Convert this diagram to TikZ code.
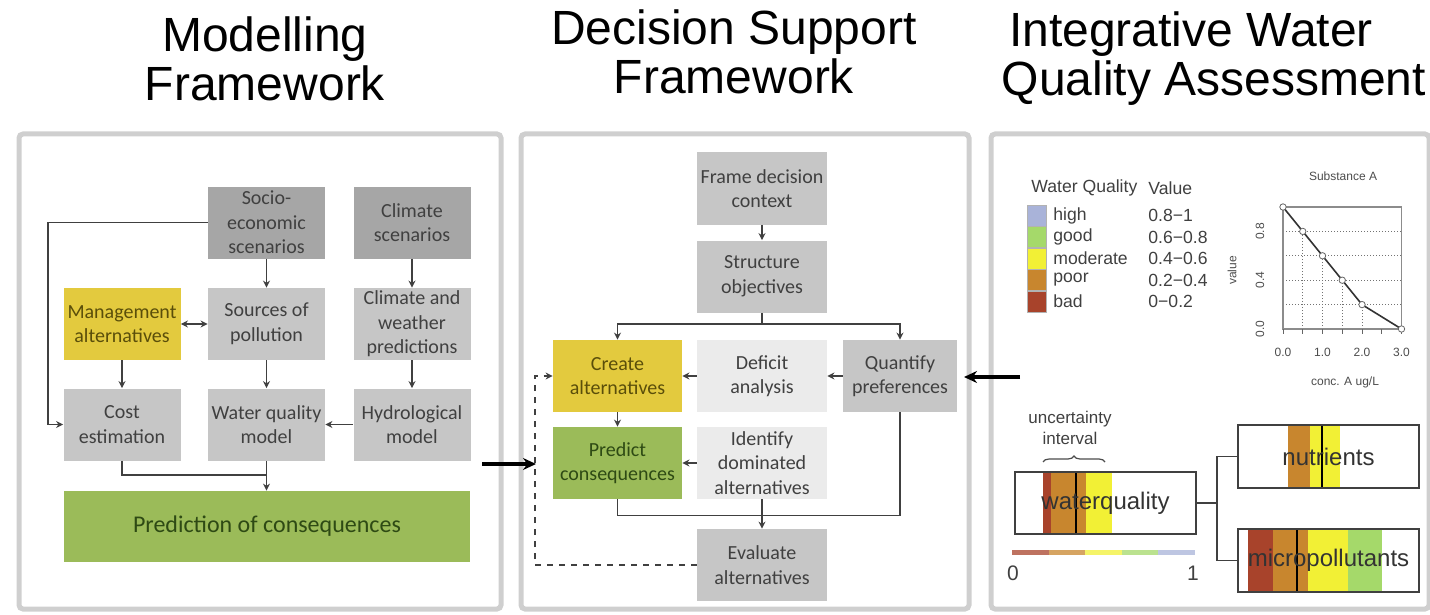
\documentclass[tikz,border=0pt]{standalone}
\usepackage{fontspec}
\setmainfont{Liberation Sans}
\newfontfamily\calfont{Carlito}
\usepackage{tikz}
\usetikzlibrary{arrows.meta,decorations.pathreplacing}

\definecolor{boxdark}{HTML}{A6A6A6}
\definecolor{boxmid}{HTML}{C6C6C6}
\definecolor{boxpale}{HTML}{EBEBEB}
\definecolor{boxyellow}{HTML}{E3CA3E}
\definecolor{boxgreen}{HTML}{9BBB59}
\definecolor{yellowtext}{HTML}{5A4E0A}
\definecolor{greentext}{HTML}{2E4A14}
\definecolor{linkgray}{HTML}{404040}
\definecolor{panelgray}{HTML}{CFCFCF}
\definecolor{wqhigh}{HTML}{A9B3D9}
\definecolor{wqgood}{HTML}{A5D96A}
\definecolor{wqmod}{HTML}{F2F035}
\definecolor{wqpoor}{HTML}{C8862E}
\definecolor{wqbad}{HTML}{A8432B}

\tikzset{
  title/.style={font=\fontsize{24}{24.5}\selectfont, align=center},
  panel/.style={draw=panelgray, line width=2.5pt, rounded corners=2pt},
  box/.style={minimum width=58.5pt, minimum height=36pt, inner sep=1pt,
              align=center, text=black!75,
              font=\calfont\fontsize{10}{12.3}\selectfont},
  darkbox/.style={box, fill=boxdark},
  lightbox/.style={box, fill=boxmid},
  palebox/.style={box, fill=boxpale},
  yellowbox/.style={box, fill=boxyellow, text=yellowtext},
  greenbox/.style={box, fill=boxgreen, text=greentext},
  link/.style={draw=linkgray, line width=0.9pt, ->},
  wire/.style={draw=linkgray, line width=0.9pt},
  bigarrow/.style={draw=black, line width=1.6pt, -{Stealth[length=6.5pt,width=6pt]}},
  legend/.style={font=\fontsize{8.8}{10}\selectfont, text=black!75, anchor=west, inner sep=0pt},
  tiny/.style={font=\fontsize{6}{7}\selectfont, text=black!70, inner sep=0pt},
  qbox/.style={draw=black!75, line width=0.8pt, minimum width=90.5pt, minimum height=31pt,
               inner sep=0pt, text=black!80, font=\fontsize{12}{13}\selectfont},
  tree/.style={draw=black!75, line width=0.8pt},
}

\begin{document}
\begin{tikzpicture}[x=0.5pt,y=-0.5pt,>={Stealth[length=3.5pt,width=3.5pt]}]
  \useasboundingbox (0,0) rectangle (1430,615);

  % headings over the three panels
  \node[title] (tmodel) at (265,59)  {Modelling\\Framework};
  \node[title] (tdecis) at (734,52)  {Decision Support\\Framework};
  \node[title] (tassess) at (1214,59) {Integrative Water\hspace*{23pt}\\Quality Assessment};

  \draw[panel] (19,134) rectangle (501,609);
  \draw[panel] (521,134) rectangle (969,609);
  \draw[panel] (991,134) rectangle (1429,609);

  % ---- modelling framework
  \node[darkbox]   (socio)    at (266.5,222.5) {Socio-\\economic\\scenarios};
  \node[darkbox]   (climsc)   at (412,222.5)   {Climate\\scenarios};
  \node[yellowbox] (mgmt)     at (122,324)     {Management\\alternatives};
  \node[lightbox]  (sources)  at (266.5,324)   {Sources of\\pollution};
  \node[lightbox]  (climpred) at (412,324)     {Climate and\\weather\\predictions};
  \node[lightbox]  (cost)     at (122,424.5)   {Cost\\estimation};
  \node[lightbox]  (wqm)      at (266.5,424.5) {Water quality\\model};
  \node[lightbox]  (hydro)    at (412,424.5)   {Hydrological\\model};
  \node[greenbox,minimum width=203pt,minimum height=35.5pt,
        font=\calfont\fontsize{12}{14}\selectfont] (pred) at (267,526.5)
        {Prediction of consequences};

  \draw[link] (socio) -- (sources);
  \draw[link] (climsc) -- (climpred);
  \draw[link,<->] (mgmt) -- (sources);
  \draw[link] (mgmt) -- (cost);
  \draw[link] (sources) -- (wqm);
  \draw[link] (climpred) -- (hydro);
  \draw[link] (hydro) -- (wqm);
  \draw[link] (socio.west) -- ++(-160,0) |- (cost.west);
  \draw[wire] (cost.south) |- (wqm.south |- 0,475);
  \draw[link] (wqm.south) -- (wqm.south |- pred.north);

  % ---- decision support framework
  \node[lightbox,minimum width=65pt]   (frame)    at (762,188.5) {Frame decision\\context};
  \node[lightbox,minimum width=65pt]   (struct)   at (762,276.5) {Structure\\objectives};
  \node[yellowbox,minimum width=64.5pt] (create)  at (617.5,376) {Create\\alternatives};
  \node[palebox,minimum width=65pt]    (deficit)  at (762,376)   {Deficit\\analysis};
  \node[lightbox,minimum width=57pt]   (quant)    at (900,376)   {Quantify\\preferences};
  \node[greenbox,minimum width=64.5pt] (predict)  at (617.5,463) {Predict\\consequences};
  \node[palebox,minimum width=65pt]    (identify) at (762,463)   {Identify\\dominated\\alternatives};
  \node[lightbox,minimum width=65pt]   (evaluate) at (762,565)   {Evaluate\\alternatives};

  \coordinate (split) at (762,324);
  \draw[link] (frame) -- (struct);
  \draw[wire] (struct) -- (split);
  \draw[link] (split) -| (create.north);
  \draw[link] (split) -| (quant.north);
  \draw[link] (deficit) -- (create);
  \draw[link] (quant) -- (deficit);
  \draw[link] (create) -- (predict);
  \draw[link] (identify) -- (predict);
  \draw[wire] (predict.south) -- ++(0,16) -| (quant.south);
  \draw[link] (identify) -- (evaluate);
  \draw[link,dashed] (evaluate.west) -- ++(-162,0) |- (create.west);

  % arrows between the panels
  \coordinate (modout) at (482,464);
  \coordinate (modin)  at (536,464);
  \coordinate (assout) at (1020,377);
  \coordinate (assin)  at (964,377);
  \draw[bigarrow] (modout) -- (modin);
  \draw[bigarrow] (assout) -- (assin);

  % ---- water quality assessment: legend
  \node[legend] (lghead) at (1031,188) {Water Quality};
  \node[legend] (lgval)  at (1148,188) {Value};
  \foreach \i/\col/\lab/\val in {0/wqhigh/high/0.8−1, 1/wqgood/good/0.6−0.8,
                                 2/wqmod/moderate/0.4−0.6, 3/wqpoor/poor/0.2−0.4,
                                 4/wqbad/bad/0−0.2}
     { \filldraw[fill=\col,draw=black!30,line width=0.3pt]
          (1027,205+21.5*\i) rectangle ++(19,21);
       \node[legend] (lg\i) at (1053,215.5+21.5*\i) {\lab};
       \node[legend] (lv\i) at (1148,215.5+21.5*\i) {\val}; }

  % value function of one substance
  \begin{scope}[shift={(1283,329)},x=19.75pt,y=61pt]
    \foreach \v in {0.2,0.4,0.6,0.8}
       { \draw[black!55,densely dotted,line width=0.5pt] (0,\v) -- (3,\v); }
    \foreach \u/\v in {0.5/0.8,1/0.6,1.5/0.4,2/0.2}
       { \draw[black!55,densely dotted,line width=0.5pt] (\u,0) -- (\u,\v); }
    \draw[black!45,line width=0.7pt] (0,0) rectangle (3,1);
    \foreach \u in {0,0.5,...,3}
       { \draw[black!60,line width=0.4pt] (\u,0) -- (\u,-0.04); }
    \draw[black!80,line width=0.8pt] (0,1) -- (0.5,0.8) -- (1,0.6) -- (1.5,0.4)
          -- (2,0.2) -- (3,0);
    \foreach \u/\v in {0/1,0.5/0.8,1/0.6,1.5/0.4,2/0.2,3/0}
       { \draw[black!60,line width=0.4pt,fill=white] (\u,\v) circle (1.6pt); }
    \foreach \u in {0,1,2,3}
       { \node[tiny] (xt\u) at (\u,-0.19) {\u.0}; }
    \foreach \v/\lab in {0/0.0,0.4/0.4,0.8/0.8}
       { \node[tiny,rotate=90] at (-0.58,\v) {\lab}; }
    \node[tiny,rotate=90] (ylab) at (-1.29,0.48) {value};
    \node[tiny] (ptitle) at (1.52,1.25) {Substance A};
    \node[tiny] (xlab) at (1.57,-0.44) {conc. A ug/L};
  \end{scope}

  % aggregation tree with uncertainty bands
  \node[legend,anchor=center,align=center,font=\fontsize{8.5}{10.5}\selectfont]
        (unc) at (1070,428) {uncertainty\\interval};
  \coordinate (bracel) at (1043,462);
  \coordinate (bracer) at (1105,462);
  \draw[black!70,line width=0.6pt,decorate,decoration={brace,amplitude=3pt}]
        (bracel) -- (bracer);

  \fill[wqbad]  (1043,472) rectangle (1051,534);
  \fill[wqpoor] (1051,472) rectangle (1086,534);
  \fill[wqmod]  (1086,472) rectangle (1112,534);
  \draw[black,line width=0.8pt] (1076,472) -- (1076,534);
  \node[qbox] (wq) at (1105.5,503) {waterquality};

  \fill[wqpoor] (1288,425) rectangle (1310,488);
  \fill[wqmod]  (1310,425) rectangle (1340,488);
  \draw[black,line width=0.8pt] (1322,425) -- (1322,488);
  \node[qbox,minimum height=31.5pt] (nut) at (1328.5,456.5) {nutrients};

  \fill[wqbad]  (1248,529) rectangle (1273,592);
  \fill[wqpoor] (1273,529) rectangle (1308,592);
  \fill[wqmod]  (1308,529) rectangle (1348,592);
  \fill[wqgood] (1348,529) rectangle (1382,592);
  \draw[black,line width=0.8pt] (1297,529) -- (1297,592);
  \node[qbox,minimum height=31.5pt] (micro) at (1328.5,560.5) {micropollutants};

  \coordinate (fork) at (1217,503);
  \draw[tree] (wq.east) -- (fork);
  \draw[tree] (nut.west) -| (fork);
  \draw[tree] (micro.west) -| (fork);

  % colour scale
  \foreach \i/\col in {0/wqbad, 1/wqpoor, 2/wqmod, 3/wqgood, 4/wqhigh}
     { \fill[\col!75] (1012+36.6*\i,550) rectangle ++(36.6,5); }
  \node[font=\fontsize{10.5}{12}\selectfont,text=black!75] (sc0) at (1013,573) {0};
  \node[font=\fontsize{10.5}{12}\selectfont,text=black!75] (sc1) at (1193,573) {1};
\end{tikzpicture}
\end{document}
